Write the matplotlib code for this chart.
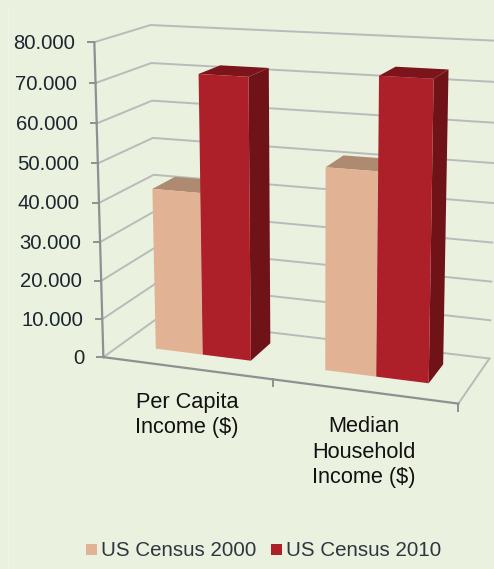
import numpy as np
import matplotlib
matplotlib.use("Agg")
import matplotlib.pyplot as plt

plt.rcParams["font.family"] = ["Liberation Sans", "DejaVu Sans"]

# Data
categories = ["Per Capita\nIncome ($)", "Median\nHousehold\nIncome ($)"]
series_names = ["US Census 2000", "US Census 2010"]
census_2000 = [42000, 51000]
census_2010 = [71800, 73800]
y_ticks = [0, 10000, 20000, 30000, 40000, 50000, 60000, 70000, 80000]
y_labels = ["0", "10.000", "20.000", "30.000", "40.000", "50.000", "60.000", "70.000", "80.000"]

# Colours
bg = "#EAF1DF"
grid_col = "#B9BBBA"
axis_col = "#8E9092"
text_col = "#1C2630"
colors = [("#E1B394", "#AE8A70", "#AE8A70"), ("#AE2029", "#7C151B", "#6F1318")]

YMAX = 80000
DEPTH = (0.32, 0.75)
GAP = 1.5

# Box corners (category pos, value/ymax, depth) and where they land in pixels
corners = [
    ((0, 0, 0), (105, 356)),
    ((0, 1, 0), (93, 42)),
    ((0, 0, 1), (155, 320)),
    ((0, 1, 1), (152, 25)),
    ((2, 0, 0), (458, 405)),
    ((2, 0, 1), (490, 357)),
    ((2, 1, 1), (497, 41)),
]

# Fit the perspective camera from the corners
rows = []
for (a, b, c), (px, py) in corners:
    rows.append([a, b, c, 1, 0, 0, 0, 0, -px * a, -px * b, -px * c, -px])
    rows.append([0, 0, 0, 0, a, b, c, 1, -py * a, -py * b, -py * c, -py])
P = np.linalg.svd(np.array(rows, dtype=float))[2][-1].reshape(3, 4)


def proj(u, val, w):
    x, y, z = P @ np.array([u, val / YMAX, w, 1.0])
    return x / z, y / z


fig = plt.figure(figsize=(4.94, 5.69), dpi=100, facecolor=bg)
ax = fig.add_axes([0, 0, 1, 1])
ax.set_xlim(0, 494)
ax.set_ylim(569, 0)
ax.axis("off")

# Faint edge of the panel
ax.plot([8, 8], [8, 569], color="#F1F5E9", lw=1, zorder=1)

# Walls
for v in y_ticks:
    p = [proj(0, v, 0), proj(0, v, 1), proj(2, v, 1)]
    ax.plot(*zip(*p), color=grid_col, lw=1.4, solid_joinstyle="miter", zorder=1)
ax.plot(*zip(proj(2, 0, 1), proj(2, 0, 0)), color=grid_col, lw=1.4, zorder=1)

# Axes and ticks
ax.plot(*zip(proj(0, 0, 0), proj(0, YMAX, 0)), color=axis_col, lw=1.6, zorder=1)
ax.plot(*zip(proj(0, 0, 0), proj(2, 0, 0)), color=axis_col, lw=1.6, zorder=1)
for v, lab in zip(y_ticks, y_labels):
    x, y = proj(0, v, 0)
    ax.plot([x - 6, x], [y, y], color=axis_col, lw=1.4, zorder=1)
    ax.text(x - 19, y + 1, lab, ha="right", va="center", fontsize=14.6, color=text_col)
for u in [1, 2]:
    x, y = proj(u, 0, 0)
    ax.plot([x, x], [y, y + 7], color=axis_col, lw=1.4, zorder=1)


def bar(u0, u1, val, cols):
    w0, w1 = DEPTH
    front = [proj(u0, 0, w0), proj(u1, 0, w0), proj(u1, val, w0), proj(u0, val, w0)]
    top = [proj(u0, val, w0), proj(u1, val, w0), proj(u1, val, w1), proj(u0, val, w1)]
    side = [proj(u1, 0, w0), proj(u1, 0, w1), proj(u1, val, w1), proj(u1, val, w0)]
    ax.fill(*zip(*side), color=cols[2], lw=0, zorder=3)
    ax.fill(*zip(*top), color=cols[1], lw=0, zorder=3)
    ax.fill(*zip(*front), color=cols[0], lw=0, zorder=3)


# Bars
bw = 1 / (2 + GAP)
for i in range(len(categories)):
    left = i + GAP * bw / 2
    bar(left, left + bw, census_2000[i], colors[0])
    bar(left + bw, left + 2 * bw, census_2010[i], colors[1])

# Category labels
ax.text(187, 415, categories[0], ha="center", va="center", fontsize=15.7, color="#111111", linespacing=1.28)
ax.text(364, 452, categories[1], ha="center", va="center", fontsize=15.7, color="#111111", linespacing=1.28)

# Legend
for x, name, cols in zip([86, 271], series_names, colors):
    ax.fill([x, x + 11, x + 11, x], [544, 544, 555, 555], color=cols[0], lw=0)
    ax.text(x + 15, 550, name, ha="left", va="center", fontsize=14.8, color="#2E3640")

fig.savefig("out.png", dpi=100, facecolor=bg)
